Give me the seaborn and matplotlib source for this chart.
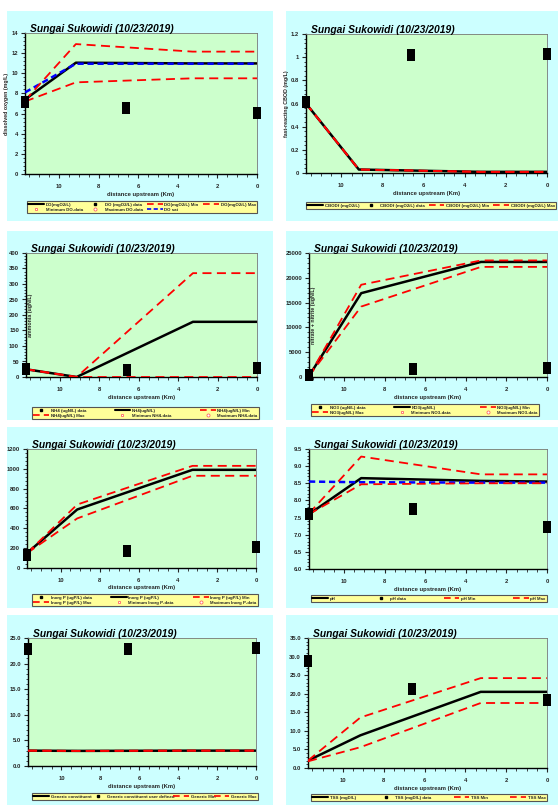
import math
import matplotlib
matplotlib.use("Agg")
import matplotlib.pyplot as plt
import seaborn as sns
from matplotlib.lines import Line2D
from matplotlib.ticker import AutoMinorLocator, FormatStrFormatter, MultipleLocator

# distances (km upstream) of model nodes and of sampled data
dist_model = [11.72, 9.15, 3.25, 0.0]
dist_data = [11.72, 6.6, 0.0]

title = "Sungai Sukowidi (10/23/2019)"

do_model = [7.4, 11.05, 10.98, 10.98]
do_min = [7.2, 9.1, 9.5, 9.5]
do_max = [7.3, 12.9, 12.15, 12.15]
do_sat = [8.1, 10.95, 10.95, 10.95]
do_data = [7.1, 6.6, 6.1]

cbod_model = [0.6, 0.03, 0.01, 0.01]
cbod_min = [0.6, 0.03, 0.01, 0.01]
cbod_max = [0.6, 0.03, 0.01, 0.01]
cbod_data = [0.61, 1.02, 1.03]

nh4_model = [25, 0, 178, 178]
nh4_min = [25, 0, 0, 0]
nh4_max = [25, 0, 335, 335]
nh4_data = [25, 24, 30]

no3_model = [200, 16900, 23200, 23200]
no3_min = [200, 14200, 22200, 22200]
no3_max = [200, 18600, 23500, 23500]
no3_data = [400, 1600, 1800]

inp_model = [150, 590, 990, 990]
inp_min = [150, 500, 930, 930]
inp_max = [150, 640, 1030, 1030]
inp_data = [135, 175, 215]

ph_model = [7.6, 8.65, 8.57, 8.55]
ph_min = [7.6, 8.47, 8.5, 8.5]
ph_max = [7.62, 9.28, 8.76, 8.76]
ph_sat = [8.55, 8.53, 8.52, 8.52]
ph_data = [7.6, 7.75, 7.22]

gen_model = [3.0, 2.95, 3.0, 3.0]
gen_min = [3.0, 2.95, 3.0, 3.0]
gen_max = [3.0, 2.95, 3.0, 3.0]
gen_data = [22.9, 22.9, 23.0]

tss_model = [2.0, 8.8, 20.5, 20.5]
tss_min = [1.8, 5.6, 17.5, 17.5]
tss_max = [2.0, 13.6, 24.2, 24.2]
tss_data = [28.9, 21.4, 18.4]

W, H = 558, 805
CYAN = "#ccffff"
GREEN = "#ccffcc"
YELLOW = "#ffff99"

sns.set_theme(style="ticks")
plt.rcParams["font.family"] = ["Liberation Sans", "DejaVu Sans"]
plt.rcParams["font.weight"] = "bold"

fig = plt.figure(figsize=(W / 100, H / 100), dpi=100, facecolor="white")


def frac(x0, y0, x1, y1):
    return [x0 / W, 1 - y1 / H, (x1 - x0) / W, (y1 - y0) / H]


rect_marker = [(-0.72, -1), (0.72, -1), (0.72, 1), (-0.72, 1)]

panels = [
    dict(box=(7, 11, 273, 221), plot=(25, 33, 257, 174), leg=(27, 199, 257, 213),
         ylabel="dissolved oxygen (mg/L)", ylab_x=9, ylim=(0, 14), ystep=2, fmt="%d",
         model=do_model, lo=do_min, hi=do_max, sat=do_sat, data=do_data, ncol=4,
         items=[("model", "DO(mgO2/L)"), ("data", "DO (mgO2/L) data"), ("lo", "DO(mgO2/L) Min"),
                ("hi", "DO(mgO2/L) Max"), ("mind", "Minimum DO-data"), ("maxd", "Maximum DO-data"),
                ("sat", "DO sat")]),
    dict(box=(286, 11, 558, 221), plot=(306, 34, 547, 173), leg=(306, 199, 556, 209),
         ylabel="fast-reacting CBOD (mg/L)", ylab_x=289, ylim=(0, 1.2), ystep=0.2, fmt="%g",
         model=cbod_model, lo=cbod_min, hi=cbod_max, sat=None, data=cbod_data, ncol=4,
         items=[("model", "CBODf (mgO2/L)"), ("data", "CBODf (mgO2/L) data"),
                ("lo", "CBODf (mgO2/L) Min"), ("hi", "CBODf (mgO2/L) Max")]),
    dict(box=(7, 231, 273, 420), plot=(26, 253, 257, 377), leg=(32, 403, 259, 419),
         ylabel="ammonia (ugN/L)", ylab_x=33, ylim=(0, 400), ystep=50, fmt="%d",
         model=nh4_model, lo=nh4_min, hi=nh4_max, sat=None, data=nh4_data, ncol=3,
         items=[("data", "NH4 (ugN/L) data"), ("model", "NH4(ugN/L)"), ("lo", "NH4(ugN/L) Min"),
                ("hi", "NH4(ugN/L) Max"), ("mind", "Minimum NH4-data"), ("maxd", "Maximum NH4-data")]),
    dict(box=(286, 231, 558, 420), plot=(309, 253, 547, 377), leg=(311, 402, 539, 416),
         ylabel="nitrate + nitrite (ugN/L)", ylab_x=316, ylim=(0, 25000), ystep=5000, fmt="%d",
         model=no3_model, lo=no3_min, hi=no3_max, sat=None, data=no3_data, ncol=3,
         items=[("data", "NO3 (ugN/L) data"), ("model", "NO3(ugN/L)"), ("lo", "NO3(ugN/L) Min"),
                ("hi", "NO3(ugN/L) Max"), ("mind", "Minimum NO3-data"), ("maxd", "Maximum NO3-data")]),
    dict(box=(7, 427, 273, 608), plot=(27, 449, 256, 568), leg=(32, 588, 258, 606),
         ylabel="", ylab_x=10, ylim=(0, 1200), ystep=200, fmt="%d",
         model=inp_model, lo=inp_min, hi=inp_max, sat=None, data=inp_data, ncol=3,
         items=[("data", "Inorg P (ugP/L) data"), ("model", "Inorg P (ugP/L)"),
                ("lo", "Inorg P (ugP/L) Min"), ("hi", "Inorg P (ugP/L) Max"),
                ("mind", "Minimum Inorg P-data"), ("maxd", "Maximum Inorg P-data")]),
    dict(box=(286, 427, 558, 608), plot=(309, 449, 547, 569), leg=(311, 593, 547, 602),
         ylabel="", ylab_x=290, ylim=(6.0, 9.5), ystep=0.5, fmt="%.1f",
         model=ph_model, lo=ph_min, hi=ph_max, sat=ph_sat, data=ph_data, ncol=4,
         items=[("model", "pH"), ("data", "pH data"), ("lo", "pH Min"), ("hi", "pH Max")]),
    dict(box=(7, 615, 273, 805), plot=(28, 638, 256, 766), leg=(32, 792, 258, 800),
         ylabel="", ylab_x=10, ylim=(0, 25), ystep=5, fmt="%.1f",
         model=gen_model, lo=gen_min, hi=gen_max, sat=None, data=gen_data, ncol=4,
         items=[("model", "Generic constituent"), ("data", "Generic constituent user defined"),
                ("lo", "Generic Min"), ("hi", "Generic Max")]),
    dict(box=(286, 615, 558, 805), plot=(308, 638, 547, 768), leg=(311, 793, 547, 801),
         ylabel="", ylab_x=290, ylim=(0, 35), ystep=5, fmt="%.1f",
         model=tss_model, lo=tss_min, hi=tss_max, sat=None, data=tss_data, ncol=4,
         items=[("model", "TSS (mgD/L)"), ("data", "TSS (mgD/L) data"), ("lo", "TSS Min"),
                ("hi", "TSS Max")]),
]

handle_of = {
    "model": Line2D([], [], color="black", lw=1.5),
    "data": Line2D([], [], color="black", marker="s", ms=2.0, ls="none"),
    "lo": Line2D([], [], color="red", lw=1.2, ls=(0, (4, 2.5))),
    "hi": Line2D([], [], color="red", lw=1.2, ls=(0, (4, 2.5))),
    "mind": Line2D([], [], color="#ff6666", marker="s", ms=2.0, mfc="white", ls="none", mew=0.6),
    "maxd": Line2D([], [], color="#ff6666", marker="o", ms=2.2, mfc="white", ls="none", mew=0.6),
    "sat": Line2D([], [], color="blue", lw=1.2, ls=(0, (2.5, 1.5))),
}

for p in panels:
    bx = fig.add_axes(frac(*p["box"]), zorder=0)
    bx.set_facecolor(CYAN)
    bx.set_xticks([])
    bx.set_yticks([])
    for s in bx.spines.values():
        s.set_visible(False)

    ax = fig.add_axes(frac(*p["plot"]), zorder=1)
    ax.set_facecolor(GREEN)

    sns.lineplot(x=dist_model, y=p["model"], ax=ax, color="black", lw=1.8,
                 sort=False, estimator=None, legend=False, zorder=3)
    if p["sat"] is not None:
        sns.lineplot(x=dist_model, y=p["sat"], ax=ax, color="blue", lw=1.8,
                     linestyle=(0, (2.5, 1.5)), sort=False, estimator=None, legend=False, zorder=4)
    for key in ("lo", "hi"):
        sns.lineplot(x=dist_model, y=p[key], ax=ax, color="red", lw=1.3,
                     linestyle=(0, (5, 3)), sort=False, estimator=None, legend=False, zorder=4)
    sns.scatterplot(x=dist_data, y=p["data"], ax=ax, marker=rect_marker, s=75,
                    color="black", linewidth=0, clip_on=False, zorder=6, legend=False)

    ax.set_xlim(11.72, 0)
    ax.set_ylim(*p["ylim"])
    ax.xaxis.set_major_locator(MultipleLocator(2))
    ax.xaxis.set_minor_locator(AutoMinorLocator(4))
    ax.yaxis.set_major_locator(MultipleLocator(p["ystep"]))
    ax.yaxis.set_minor_locator(AutoMinorLocator(5))
    ax.yaxis.set_major_formatter(FormatStrFormatter(p["fmt"]))
    ax.tick_params(which="major", length=3, width=0.8, labelsize=4.2)
    ax.tick_params(axis="x", which="major", pad=4)
    ax.tick_params(axis="y", which="major", pad=2)
    ax.tick_params(which="minor", length=1.8, width=0.6)
    for s in ax.spines.values():
        s.set_linewidth(0.6)
        s.set_color("#777777")
    ax.spines["left"].set_color("black")
    ax.spines["left"].set_linewidth(1.0)
    ax.spines["bottom"].set_color("black")
    ax.spines["bottom"].set_linewidth(1.0)
    ax.set_xlabel("distance upstream (Km)", fontsize=4.2, fontweight="bold", labelpad=2)
    ax.set_ylabel(p["ylabel"], fontsize=3.8, fontweight="bold")
    lx = (p["ylab_x"] - p["plot"][0]) / (p["plot"][2] - p["plot"][0])
    ax.yaxis.set_label_coords(lx, 0.5)
    ax.text(0.02, 0.99, title, transform=ax.transAxes, ha="left", va="bottom",
            fontsize=7.4, fontstyle="italic", fontweight="bold", color="black")

    items = p["items"]
    ncol = p["ncol"]
    nrow = math.ceil(len(items) / ncol)
    order = [r * ncol + c for c in range(ncol) for r in range(nrow) if r * ncol + c < len(items)]
    handles = [handle_of[items[i][0]] for i in order]
    labels = [items[i][1] for i in order]
    x0, y0, x1, y1 = p["leg"]
    leg = fig.legend(handles, labels, loc="lower left", ncol=ncol, mode="expand",
                     bbox_to_anchor=(x0 / W, 1 - y1 / H, (x1 - x0) / W, (y1 - y0) / H),
                     fontsize=3.2, frameon=True, fancybox=False, borderpad=0.3,
                     handlelength=3.5, handletextpad=0.4, columnspacing=0.4,
                     labelspacing=0.15, borderaxespad=0)
    leg.get_frame().set_facecolor(YELLOW)
    leg.get_frame().set_edgecolor("#555555")
    leg.get_frame().set_linewidth(0.8)
    leg.get_frame().set_alpha(1)

fig.savefig("out.png", dpi=100, facecolor="white")
